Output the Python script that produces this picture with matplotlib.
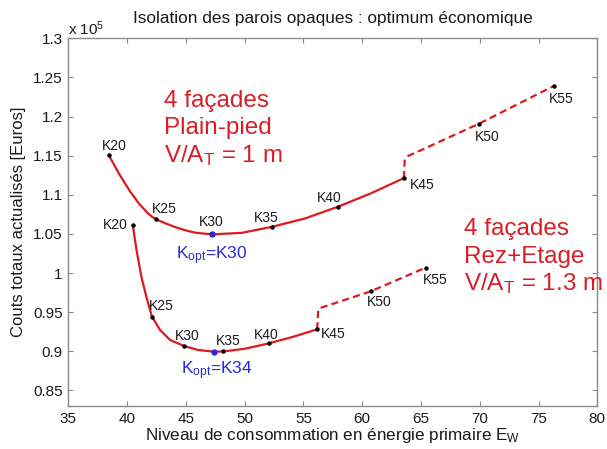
import matplotlib
matplotlib.use("Agg")
import matplotlib.pyplot as plt
from matplotlib.ticker import FuncFormatter, MultipleLocator

# ---- Data: total discounted cost [Euros] vs primary energy level E_W ----
# Four façades, single storey (plain-pied): continuous part of the curve
pp_x = [38.43, 39.36, 40.23, 41.03, 41.78, 42.12, 42.46, 43.29, 44.23, 45.07,
        45.86, 47.24, 49.77, 52.35, 55.13, 57.96, 60.74, 63.55]
pp_y = [115090, 112570, 110480, 108830, 107620, 107200, 106860, 106330, 105800,
        105410, 105140, 104940, 105130, 105910, 106970, 108480, 110180, 112130]
# ... and the part beyond K45 (dashed)
pp_dash_x = [63.55, 63.61, 63.89, 69.92, 76.30]
pp_dash_y = [112130, 114360, 114940, 119070, 123910]

# Four façades, ground floor + upper storey (rez+étage)
re_x = [40.48, 40.82, 41.24, 41.67, 42.12, 42.80, 43.65, 44.84, 46.03, 47.42,
        48.18, 50.03, 52.04, 54.11, 56.17]
re_y = [106130, 102790, 99360, 96790, 94400, 92730, 91440, 90670, 90160, 89940,
        89970, 90320, 91000, 91840, 92800]
re_dash_x = [56.17, 56.26, 56.55, 60.71, 65.42]
re_dash_y = [92800, 95300, 95590, 97650, 100700]

# Insulation levels marked on each curve
k_labels = ["K20", "K25", "K30", "K35", "K40", "K45", "K50", "K55"]
pp_k_x = [38.43, 42.46, 47.24, 52.35, 57.96, 63.55, 69.92, 76.30]
pp_k_y = [115090, 106860, 104940, 105910, 108480, 112130, 119070, 123910]
re_k_x = [40.48, 42.12, 44.84, 48.18, 52.04, 56.17, 60.71, 65.42]
re_k_y = [106130, 94400, 90670, 89970, 91000, 92800, 97650, 100700]

# Economic optimum of each configuration
pp_opt_label = "K30"
pp_opt_x, pp_opt_y = 47.24, 104940
re_opt_label = "K34"
re_opt_x, re_opt_y = 47.42, 89940

# Label offsets in pixels (dx, dy) relative to each marker
pp_offsets = [(6, 5.3), (7.9, 6.6), (-0.8, 8.3), (-5.8, 5), (-9.3, 5),
              (18, -10.7), (8, -17.4), (7, -17)]
re_offsets = [(-17.7, -4), (9.5, 7.3), (3.5, 6.3), (5.4, 6.7), (-2.7, 4.7),
              (16.5, -9), (8.8, -15), (9, -16.7)]

RED = "#e01820"
TXT_RED = "#d81e26"
BLUE = "#2a2ad2"
GREY = "#8a8a8a"
SCALE = 1e5

plt.rcParams["font.family"] = ["Liberation Sans", "DejaVu Sans"]
plt.rcParams["mathtext.default"] = "regular"

fig = plt.figure(figsize=(6.07, 4.49), dpi=100)
W, H = 607, 449
ax = fig.add_axes([68.3 / W, 1 - 406 / H, (597.3 - 68.3) / W, (406 - 38.3) / H])

lw = 1.6
ax.plot(pp_x, pp_y, color=RED, lw=lw, solid_capstyle="round", zorder=2)
ax.plot(re_x, re_y, color=RED, lw=lw, solid_capstyle="round", zorder=2)
ax.plot(pp_dash_x, pp_dash_y, color=RED, lw=lw, dashes=(3.2, 1.9), zorder=2)
ax.plot(re_dash_x, re_dash_y, color=RED, lw=lw, dashes=(3.2, 1.9), zorder=2)

for lab, x, y, off in zip(k_labels, pp_k_x, pp_k_y, pp_offsets):
    if lab != pp_opt_label:
        ax.plot(x, y, "o", color="black", ms=2.2, zorder=3)
    ax.annotate(lab, (x, y), xytext=(off[0] * 0.72, off[1] * 0.72),
                textcoords="offset points", ha="center", va="baseline",
                fontsize=10, color="#1a1a1a")
for lab, x, y, off in zip(k_labels, re_k_x, re_k_y, re_offsets):
    ax.plot(x, y, "o", color="black", ms=2.2, zorder=3)
    ax.annotate(lab, (x, y), xytext=(off[0] * 0.72, off[1] * 0.72),
                textcoords="offset points", ha="center", va="baseline",
                fontsize=10, color="#1a1a1a")

ax.plot(pp_opt_x, pp_opt_y, "o", color=BLUE, ms=3.6, zorder=4)
ax.plot(re_opt_x, re_opt_y, "o", color=BLUE, ms=3.6, zorder=4)
ax.annotate("K$_{opt}$=" + pp_opt_label, (pp_opt_x, pp_opt_y),
            xytext=(0, -25 * 0.72), textcoords="offset points",
            ha="center", va="baseline", fontsize=12.5, color=BLUE)
ax.annotate("K$_{opt}$=" + re_opt_label, (re_opt_x, re_opt_y),
            xytext=(3 * 0.72, -22.3 * 0.72), textcoords="offset points",
            ha="center", va="baseline", fontsize=12.5, color=BLUE)

# Axes styling
ax.set_xlim(35, 80)
ax.set_ylim(0.83 * SCALE, 1.3 * SCALE)
ax.xaxis.set_major_locator(MultipleLocator(5))
ax.yaxis.set_major_locator(MultipleLocator(0.05 * SCALE))
ax.yaxis.set_major_formatter(FuncFormatter(lambda v, p: f"{v / SCALE:g}"))
ax.tick_params(direction="in", length=3.6, width=0.8, color=GREY,
               top=True, right=True, labelsize=11, pad=4,
               labelcolor="#1a1a1a")
for s in ax.spines.values():
    s.set_color(GREY)
    s.set_linewidth(1.0)

ax.set_xlabel("Niveau de consommation en énergie primaire E$_W$",
              fontsize=12.3, color="#1a1a1a", labelpad=0)
ax.set_ylabel("Couts totaux actualisés [Euros]", fontsize=12,
              color="#1a1a1a", labelpad=5)
ax.set_title("Isolation des parois opaques : optimum économique",
             fontsize=12.4, color="#1a1a1a", pad=11)
fig.text(68.3 / W, 1 - 35 / H, "x 10$^5$", fontsize=11, color="#1a1a1a",
         ha="left", va="baseline")

# Configuration captions
red_font = dict(family="Liberation Sans", fontsize=17.5, color=TXT_RED,
                ha="left", va="baseline")
for txt, yb in zip(["4 façades", "Plain-pied", "V/A$_T$ = 1 m"],
                   [106.7, 134.3, 161.7]):
    fig.text(164.3 / W, 1 - yb / H, txt, **red_font)
for txt, yb in zip(["4 façades", "Rez+Etage", "V/A$_T$ = 1.3 m"],
                   [235, 263, 290]):
    fig.text(464.3 / W, 1 - yb / H, txt, **red_font)

fig.savefig("out.png", dpi=100)
